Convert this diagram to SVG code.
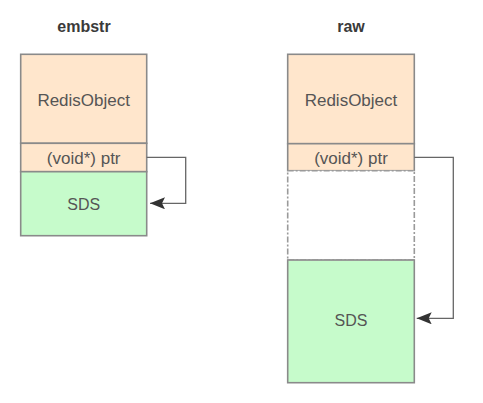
<svg xmlns="http://www.w3.org/2000/svg" width="483" height="403" viewBox="0 0 483 403">
<style>
.t{font-family:"Liberation Sans",Arial,sans-serif;fill:#3a3a3a;font-size:16px;font-weight:bold;text-anchor:middle}
.l{font-family:"Liberation Sans",Arial,sans-serif;fill:#555;font-size:17px;text-anchor:middle}
.obj{fill:#FFE6CC;stroke:#8a8a8a;stroke-width:1.6}
.sds{fill:#C6FBCB;stroke:#8a8a8a;stroke-width:1.6}
.gap{fill:#fff;stroke:#9a9a9a;stroke-width:1.6;stroke-dasharray:6 2 2 2}
.c{fill:none;stroke:#666;stroke-width:1.3}
</style>
<defs>
<marker id="ah" markerWidth="16" markerHeight="12" refX="15" refY="6" orient="auto" markerUnits="userSpaceOnUse">
<path d="M0,0 L15,6 L0,12 L3,6 Z" fill="#333"/>
</marker>
</defs>
<rect width="483" height="403" fill="#fff"/>
<text class="t" x="84" y="32">embstr</text>
<text class="t" x="351" y="32">raw</text>
<g id="embstr-redisobject">
<rect class="obj" x="20.7" y="54.3" width="126" height="89"/>
<text class="l" x="83.7" y="106">RedisObject</text>
</g>
<g id="embstr-ptr">
<rect class="obj" x="20.7" y="143.3" width="126" height="28.4"/>
<text class="l" x="83.7" y="164">(void*) ptr</text>
</g>
<g id="embstr-sds">
<rect class="sds" x="20.7" y="171.7" width="126" height="64"/>
<text class="l" x="83.7" y="209.5" style="font-size:16px">SDS</text>
</g>
<g id="raw-redisobject">
<rect class="obj" x="287.7" y="54.3" width="126.6" height="89.4"/>
<text class="l" x="351" y="106">RedisObject</text>
</g>
<g id="raw-ptr">
<rect class="obj" x="287.7" y="143.7" width="126.6" height="27"/>
<text class="l" x="351" y="164">(void*) ptr</text>
</g>
<g id="raw-gap">
<rect class="gap" x="287.7" y="170.7" width="126.6" height="89.3"/>
</g>
<g id="raw-sds">
<rect class="sds" x="287.7" y="260" width="126.6" height="122.7"/>
<line x1="287.7" y1="260" x2="414.3" y2="260" stroke="#9a9a9a" stroke-width="1.6" stroke-dasharray="6 2 2 2"/>
<text class="l" x="351" y="325.5" style="font-size:16px">SDS</text>
</g>
<g id="connectors">
<path class="c" d="M146.7,157.3 H185.7 V203.3 H150" marker-end="url(#ah)"/>
<path class="c" d="M414.3,157.3 H453.3 V318.3 H416.7" marker-end="url(#ah)"/>
</g>
</svg>
